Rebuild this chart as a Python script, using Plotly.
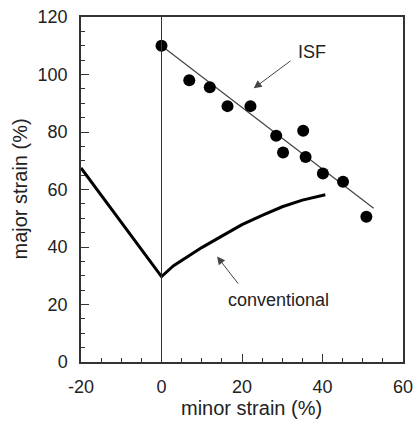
import plotly.graph_objects as go

# ISF experimental data
isf_x = [0, 6.9, 12.0, 16.4, 22.1, 28.5, 35.2, 30.2, 35.8, 40.1, 45.1, 50.9]
isf_y = [110, 98, 95.6, 89, 89, 78.7, 80.4, 72.9, 71.3, 65.6, 62.7, 50.5]

# ISF trend line
fit_x = [0, 52.7]
fit_y = [110, 53.5]

# conventional forming limit curve
conv_x = [-20, 0, 3, 7, 10, 14, 20, 25, 30, 35, 40.7]
conv_y = [67.5, 29.7, 33.5, 37.2, 39.8, 43.0, 47.8, 51, 54, 56.3, 58.2]

# axis ticks
x_ticks = [-20, 0, 20, 40, 60]
x_ticklabels = ["-20", "0", "20", "40", "60"]
y_ticks = [0, 20, 40, 60, 80, 100, 120]

FONT = "Liberation Sans, Arial, sans-serif"
INK = "#222222"

fig = go.Figure()
fig.add_trace(go.Scatter(x=fit_x, y=fit_y, mode="lines",
                         line=dict(color="#444444", width=1.2), showlegend=False))
fig.add_trace(go.Scatter(x=isf_x, y=isf_y, mode="markers",
                         marker=dict(color="black", size=12), showlegend=False))
fig.add_trace(go.Scatter(x=conv_x, y=conv_y, mode="lines",
                         line=dict(color="black", width=3), showlegend=False))

# vertical line at x = 0
fig.add_shape(type="line", x0=0, x1=0, y0=0, y1=1, xref="x", yref="paper",
              line=dict(color="#333333", width=1))

# annotations
fig.add_annotation(x=37.4, y=108, text="ISF", showarrow=False,
                   font=dict(family=FONT, size=18, color=INK))
fig.add_annotation(x=22.9, y=95.2, ax=32.4, ay=105.1, axref="x", ayref="y",
                   text="", showarrow=True, arrowhead=2, arrowsize=1.6,
                   arrowwidth=1, arrowcolor="#444444")
fig.add_annotation(x=29.1, y=21.6, text="conventional", showarrow=False,
                   font=dict(family=FONT, size=18, color=INK))
fig.add_annotation(x=13.8, y=36.7, ax=19.3, ay=26.8, axref="x", ayref="y",
                   text="", showarrow=True, arrowhead=2, arrowsize=1.6,
                   arrowwidth=1, arrowcolor="#444444")

# axis titles as paper annotations for exact placement
fig.add_annotation(x=0.5 + 10 / 322, y=-46.5 / 345.5, xref="paper", yref="paper",
                   text="minor strain (%)", showarrow=False, yanchor="middle",
                   font=dict(family=FONT, size=20, color=INK))
fig.add_annotation(x=-62 / 322, y=0.5, xref="paper", yref="paper",
                   text="major strain (%)", showarrow=False, textangle=-90,
                   xanchor="center", yanchor="middle",
                   font=dict(family=FONT, size=20, color=INK))

axis_common = dict(
    showgrid=False, zeroline=False, showline=True, mirror=True,
    linecolor="#333333", linewidth=1.5, automargin=False,
    ticks="inside", ticklen=8, tickwidth=1, tickcolor="#333333",
    tickfont=dict(family=FONT, size=18, color=INK),
)

fig.update_xaxes(range=[-20, 60], tickvals=x_ticks, ticktext=x_ticklabels,
                 ticklabelstandoff=8,
                 minor=dict(dtick=5, ticks="inside", ticklen=4, tickcolor="#333333"),
                 **axis_common)
fig.update_yaxes(range=[0, 120], tickvals=y_ticks,
                 ticklabelstandoff=8,
                 minor=dict(dtick=5, ticks="inside", ticklen=4, tickcolor="#333333"),
                 **axis_common)

fig.update_layout(
    width=414, height=424,
    margin=dict(l=81, r=11, t=17, b=61.5),
    paper_bgcolor="white", plot_bgcolor="white",
    showlegend=False,
)

# remove the default page margin so the figure fills the window exactly
fig.write_html(
    "out.html",
    config={"displayModeBar": False},
    post_script="document.body.style.margin='0';document.body.style.overflow='hidden';",
)
